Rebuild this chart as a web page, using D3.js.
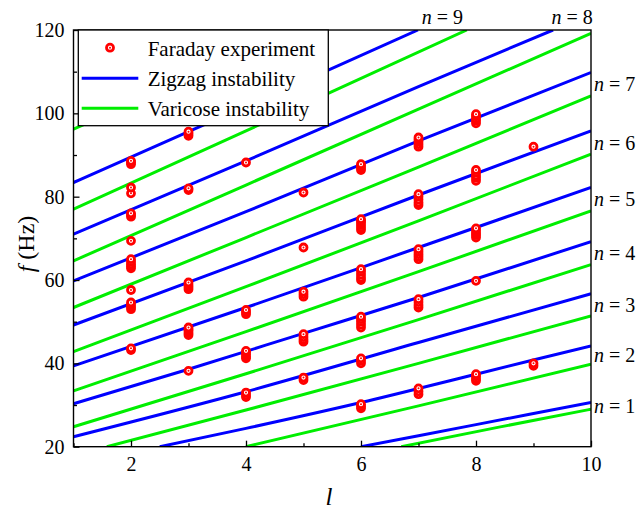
<!DOCTYPE html>
<html>
<head>
<meta charset="utf-8">
<script src="https://cdn.jsdelivr.net/npm/d3@7"></script>
<style>
  body { margin: 0; background: #fff; }
  text { font-family: "Liberation Serif", "Times New Roman", serif; fill: #000; }
</style>
</head>
<body>
<svg id="chart" width="640" height="511"></svg>
<script>
// ---- data ----
const lTicks = [2, 4, 6, 8, 10];
const lMinor = [1, 3, 5, 7, 9];
const fTicks = [20, 40, 60, 80, 100, 120];
const fMinor = [30, 50, 70, 90, 110];

// zigzag instability curves, n = 1..9, points [l, f]
const zigzagCurves = [
  [[6.0, 20], [8, 25.3], [10, 30.6]],
  [[2.5, 20], [4, 24.4], [6, 30.6], [8, 37.4], [10, 44.2]],
  [[1, 22.4], [4, 33.2], [7, 45.0], [10, 56.7]],
  [[1, 30.3], [3, 38.6], [5, 47.2], [7, 55.8], [10, 69.2]],
  [[1, 39.4], [4, 53.4], [7, 67.8], [10, 82.2]],
  [[1, 49.2], [4, 64.6], [7, 80.4], [10, 95.8]],
  [[1, 59.8], [4, 76.4], [7, 93.4], [10, 109.8]],
  [[1, 71.0], [4, 88.6], [7, 106.4], [9.34, 120]],
  [[1, 83.4], [3, 95.6], [5.43, 110.4], [6.99, 120]]
];

// varicose instability curves, n = 1..10
const varicoseCurves = [
  [[6.7, 20], [8.4, 24.7], [10, 29.0]],
  [[4.0, 20], [7, 29.8], [10, 39.8]],
  [[1.58, 20], [4, 28.8], [7, 40.0], [10, 51.4]],
  [[1, 24.8], [4, 37.5], [7, 50.5], [10, 63.7]],
  [[1, 33.4], [4, 47.6], [7, 62.0], [10, 76.6]],
  [[1, 42.8], [4, 58.4], [7, 74.2], [10, 90.2]],
  [[1, 53.4], [4, 70.2], [7, 87.1], [10, 104.2]],
  [[1, 64.6], [4, 82.8], [7, 101.0], [10, 119.2]],
  [[1, 77.0], [4, 95.8], [5.43, 104.8], [7.84, 120]],
  [[1, 96.2], [3, 108.5], [4.9, 120]]
];

// Faraday experiment [l, f] (listed low to high inside each cluster)
const faraday = [
  [2, 43.2], [2, 43.6],
  [2, 53.0], [2, 53.5], [2, 54.0], [2, 54.6],
  [2, 57.6],
  [2, 62.8], [2, 63.3], [2, 63.8], [2, 64.4], [2, 65.0],
  [2, 69.4],
  [2, 75.2], [2, 75.6], [2, 76.0],
  [2, 80.8], [2, 82.2],
  [2, 87.8], [2, 88.2], [2, 88.6],
  [3, 38.2],
  [3, 46.8], [3, 47.3], [3, 47.8], [3, 48.2], [3, 48.6],
  [3, 57.8], [3, 58.3], [3, 58.8], [3, 59.4],
  [3, 81.6], [3, 82.0],
  [3, 94.6], [3, 95.1], [3, 95.6],
  [4, 31.9], [4, 32.4], [4, 33.0],
  [4, 41.2], [4, 41.6], [4, 42.1], [4, 42.6], [4, 43.0],
  [4, 51.8], [4, 52.3], [4, 52.8],
  [4, 88.2],
  [5, 36.0], [5, 36.6],
  [5, 45.2], [5, 45.7], [5, 46.3], [5, 47.0],
  [5, 56.0], [5, 56.6], [5, 57.2],
  [5, 67.8],
  [5, 81.0],
  [6, 29.2], [6, 29.7], [6, 30.2],
  [6, 40.0], [6, 40.6], [6, 41.2],
  [6, 48.6], [6, 49.3], [6, 50.0], [6, 50.6], [6, 51.2],
  [6, 60.0], [6, 60.6], [6, 61.3], [6, 62.0], [6, 62.6],
  [6, 72.0], [6, 72.6], [6, 73.2], [6, 73.8], [6, 74.2], [6, 74.6],
  [6, 86.4], [6, 86.9], [6, 87.4], [6, 87.8],
  [7, 32.6], [7, 33.3], [7, 34.0],
  [7, 53.4], [7, 54.0], [7, 54.7], [7, 55.4],
  [7, 65.0], [7, 65.6], [7, 66.2], [7, 66.8], [7, 67.4],
  [7, 78.0], [7, 78.6], [7, 79.3], [7, 80.0], [7, 80.6],
  [7, 92.0], [7, 92.6], [7, 93.2], [7, 93.7], [7, 94.2],
  [8, 35.8], [8, 36.3], [8, 36.9], [8, 37.4],
  [8, 59.8],
  [8, 70.2], [8, 70.8], [8, 71.3], [8, 71.9], [8, 72.4],
  [8, 83.8], [8, 84.5], [8, 85.1], [8, 85.8], [8, 86.4],
  [8, 97.6], [8, 98.2], [8, 98.7], [8, 99.3], [8, 99.8],
  [9, 39.4], [9, 40.0],
  [9, 92.0]
];

const sideLabels = [1, 2, 3, 4, 5, 6, 7];
const topLabels = [8, 9];
const legendItems = ["Faraday experiment", "Zigzag instability", "Varicose instability"];

// ---- drawing ----
const BLUE = "#0000ff", GREEN = "#00ee00", RED = "#ff0000";
const svg = d3.select("#chart");
const x0 = 73.5, x1 = 591, y0 = 30, y1 = 446.7;

const xScale = d3.scaleLinear().domain([1, 10]).range([x0, x1]);
const yScale = d3.scaleLinear().domain([20, 120]).range([y1, y0]);

svg.append("defs").append("clipPath").attr("id", "plot")
  .append("rect").attr("x", x0).attr("y", y0)
  .attr("width", x1 - x0).attr("height", y1 - y0);

const line = d3.line()
  .x(d => xScale(d[0]))
  .y(d => yScale(d[1]))
  .curve(d3.curveMonotoneX);

const plot = svg.append("g").attr("clip-path", "url(#plot)");

plot.selectAll(".var").data(varicoseCurves).enter()
  .append("path").attr("class", "var")
  .attr("d", line).attr("fill", "none")
  .attr("stroke", GREEN).attr("stroke-width", 3);

plot.selectAll(".zig").data(zigzagCurves).enter()
  .append("path").attr("class", "zig")
  .attr("d", line).attr("fill", "none")
  .attr("stroke", BLUE).attr("stroke-width", 3);

const marker = (g, cx, cy) => {
  g.append("circle").attr("cx", cx).attr("cy", cy).attr("r", 3.5)
    .attr("fill", "#fff").attr("stroke", RED).attr("stroke-width", 2.8);
  g.append("circle").attr("cx", cx).attr("cy", cy).attr("r", 1)
    .attr("fill", RED);
};
const pts = plot.append("g");
faraday.forEach(d => marker(pts, xScale(d[0]), yScale(d[1])));

// axes
svg.append("g").attr("transform", `translate(0,${y1})`)
  .call(d3.axisBottom(xScale).tickValues(lTicks).tickSize(-6).tickPadding(10));
svg.append("g").attr("transform", `translate(0,${y1})`)
  .call(d3.axisBottom(xScale).tickValues(lMinor).tickSize(-3.5).tickFormat(""));
svg.append("g").attr("transform", `translate(${x0},0)`)
  .call(d3.axisLeft(yScale).tickValues(fTicks).tickSize(-6).tickPadding(9));
svg.append("g").attr("transform", `translate(${x0},0)`)
  .call(d3.axisLeft(yScale).tickValues(fMinor).tickSize(-3.5).tickFormat(""));

svg.selectAll(".domain").remove();
svg.selectAll(".tick line").attr("stroke", "#000").attr("stroke-width", 1.3);
svg.selectAll(".tick text").style("font-size", "20px")
  .style("font-family", '"Liberation Serif", "Times New Roman", serif');

svg.append("rect").attr("x", x0).attr("y", y0)
  .attr("width", x1 - x0).attr("height", y1 - y0)
  .attr("fill", "none").attr("stroke", "#000").attr("stroke-width", 1.4);

// axis titles
svg.append("text").attr("x", 329).attr("y", 505)
  .attr("text-anchor", "middle").style("font-size", "25px")
  .style("font-style", "italic").text("l");

const yt = svg.append("text")
  .attr("transform", "translate(34,244) rotate(-90)")
  .attr("text-anchor", "middle").style("font-size", "24px");
yt.append("tspan").style("font-style", "italic").text("f");
yt.append("tspan").text(" (Hz)");

// n labels
const nLabel = (sel, n) => {
  sel.append("tspan").style("font-style", "italic").text("n");
  sel.append("tspan").text(" = " + n);
};
sideLabels.forEach(n => {
  const b = zigzagCurves[n - 1], g = varicoseCurves[n - 1];
  const mid = (b[b.length - 1][1] + g[g.length - 1][1]) / 2;
  const t = svg.append("text").attr("x", x1 + 3).attr("y", yScale(mid))
    .attr("dy", "0.35em").style("font-size", "20px");
  nLabel(t, n);
});
topLabels.forEach(n => {
  const b = zigzagCurves[n - 1], g = varicoseCurves[n - 1];
  const mx = (xScale(b[b.length - 1][0]) + xScale(g[g.length - 1][0])) / 2;
  const t = svg.append("text").attr("x", mx).attr("y", 24)
    .attr("text-anchor", "middle").style("font-size", "20px");
  nLabel(t, n);
});

// legend
const lg = svg.append("g");
lg.append("rect").attr("x", 78.3).attr("y", y0)
  .attr("width", 250).attr("height", 95.7)
  .attr("fill", "#fff").attr("stroke", "#000").attr("stroke-width", 1.3);
marker(lg, 110, 47.7);
lg.append("line").attr("x1", 81.7).attr("x2", 138.3).attr("y1", 78.3).attr("y2", 78.3)
  .attr("stroke", BLUE).attr("stroke-width", 3);
lg.append("line").attr("x1", 81.7).attr("x2", 138.3).attr("y1", 108.3).attr("y2", 108.3)
  .attr("stroke", GREEN).attr("stroke-width", 3);
lg.selectAll(".lt").data(legendItems).enter()
  .append("text").attr("class", "lt")
  .attr("x", 147.7).attr("y", (d, i) => 55.5 + i * 30)
  .style("font-size", "21px").text(d => d);
</script>
</body>
</html>
